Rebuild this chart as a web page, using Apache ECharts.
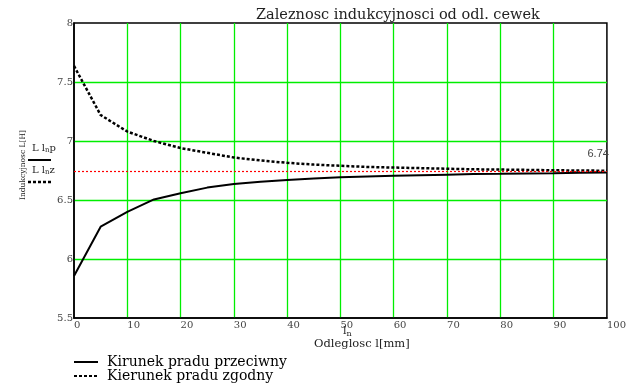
<!DOCTYPE html>
<html><head><meta charset="utf-8">
<script src="https://cdn.jsdelivr.net/npm/echarts@6/dist/echarts.min.js"></script>
<style>html,body{margin:0;padding:0;background:#fff}#c{width:629px;height:383px}</style>
</head><body><div id="c"></div>
<script>
const distances = [0,5,10,15,20,25,30,35,40,45,50,55,60,65,70,75,80,85,90,95,100];
const przeciwny = [5.856,6.274,6.40,6.505,6.557,6.605,6.635,6.655,6.67,6.683,6.693,6.70,6.705,6.71,6.715,6.72,6.722,6.725,6.727,6.73,6.732];
const zgodny = [7.636,7.22,7.08,7.00,6.94,6.90,6.86,6.835,6.815,6.80,6.79,6.78,6.775,6.77,6.765,6.76,6.758,6.755,6.752,6.75,6.748];
const limitValue = 6.74;
const titleText = 'Zaleznosc indukcyjnosci od odl. cewek';
const xName = 'Odleglosc l[mm]';
const yName = 'Indukcyjnosc L[H]';
const seriesNames = ['Kirunek pradu przeciwny', 'Kierunek pradu zgodny'];

const chart = echarts.init(document.getElementById('c'));
const serif = 'DejaVu Serif';
chart.setOption({
  animation: false,
  backgroundColor: '#fff',
  title: {
    text: titleText, left: 251, top: 3,
    textStyle: {fontFamily: serif, fontSize: 14.5, fontWeight: 'normal', color: '#222'}
  },
  grid: {left: 74, right: 17, top: 23, bottom: 65, show: true, borderColor: '#000', borderWidth: 1.5, backgroundColor: 'transparent'},
  xAxis: {
    type: 'value', min: 0, max: 100, interval: 10,
    axisLine: {show: true, lineStyle: {color: '#000', width: 1.5}},
    axisTick: {show: false},
    axisLabel: {align: 'left', margin: 2, color: '#444', fontFamily: serif, fontSize: 10},
    splitLine: {show: true, showMinLine: false, showMaxLine: false, lineStyle: {color: '#00ee00', width: 1.3}}
  },
  yAxis: {
    type: 'value', min: 5.5, max: 8, interval: 0.5,
    axisLine: {show: true, lineStyle: {color: '#000', width: 1.5}},
    axisTick: {show: false},
    axisLabel: {margin: 1, color: '#444', fontFamily: serif, fontSize: 10},
    splitLine: {show: true, showMinLine: false, showMaxLine: false, lineStyle: {color: '#00ee00', width: 1.3}}
  },
  legend: {
    orient: 'vertical', left: 73, top: 355, padding: 0, itemGap: 0, itemWidth: 24, itemHeight: 8,
    data: seriesNames,
    itemStyle: {opacity: 0},
    textStyle: {fontFamily: serif, fontSize: 14, lineHeight: 14, color: '#000', padding: [0,0,0,4]}
  },
  graphic: [
    {type: 'text', x: 343, y: 324, style: {text: '{a|l}{s|n}', rich: {a: {fontFamily: serif, fontSize: 11, fill: '#222'}, s: {fontFamily: serif, fontSize: 8, fill: '#222', padding: [6,0,0,0]}}}},
    {type: 'text', x: 314, y: 338, style: {text: xName, fontFamily: serif, fontSize: 11.5, fill: '#222'}},
    {type: 'text', x: 19, y: 200, rotation: Math.PI/2, style: {text: yName, fontFamily: serif, fontSize: 7.5, fill: '#222'}},
    {type: 'text', x: 32, y: 142, style: {text: '{a|L l}{s|n}{a|p}', rich: {a: {fontFamily: serif, fontSize: 10, fill: '#222'}, s: {fontFamily: serif, fontSize: 7, fill: '#222', padding: [5,0,0,0]}}}},
    {type: 'line', shape: {x1: 28, y1: 160, x2: 51, y2: 160}, style: {stroke: '#000', lineWidth: 2}},
    {type: 'text', x: 32, y: 164, style: {text: '{a|L l}{s|n}{a|z}', rich: {a: {fontFamily: serif, fontSize: 10, fill: '#222'}, s: {fontFamily: serif, fontSize: 7, fill: '#222', padding: [5,0,0,0]}}}},
    {type: 'line', shape: {x1: 28, y1: 182, x2: 51, y2: 182}, style: {stroke: '#000', lineWidth: 2.5, lineDash: [3,2]}}
  ],
  series: [
    {
      name: seriesNames[0], type: 'line', data: distances.map((d,i)=>[d, przeciwny[i]]),
      symbol: 'none', lineStyle: {color: '#000', width: 2}, itemStyle: {color: '#000'}, z: 3,
      markLine: {
        silent: true, symbol: 'none',
        lineStyle: {color: '#ff0000', type: [2,2], width: 1.2},
        label: {position: 'insideEndTop', distance: [-2, 12], formatter: p => p.value.toFixed(2), color: '#444', fontFamily: 'Liberation Sans', fontSize: 11},
        data: [{yAxis: limitValue}]
      }
    },
    {
      name: seriesNames[1], type: 'line', data: distances.map((d,i)=>[d, zgodny[i]]),
      symbol: 'none', lineStyle: {color: '#000', width: 2.5, type: [3,2]}, itemStyle: {color: '#000'}, z: 4
    }
  ]
});
</script></body></html>
